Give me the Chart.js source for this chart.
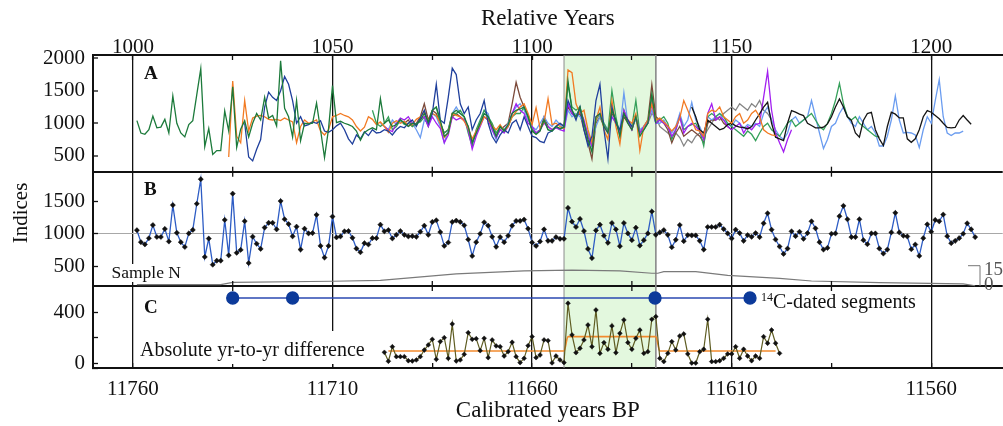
<!DOCTYPE html>
<html lang="en">
<head>
  <meta charset="UTF-8" />
  <title>Ring-width indices</title>
  <script src="https://cdn.jsdelivr.net/npm/chart.js"></script>
  <style>
    html, body { margin: 0; padding: 0; background: #fff; overflow: hidden; }
    /* a little wider than the window: the point overflow padding then falls outside the view */
    #wrap { width: 1010px; height: 426px; position: relative; }
  </style>
</head>
<body>
<div id="wrap"><canvas id="chart"></canvas></div>
<script>
const serif = "'Liberation Serif', 'Times New Roman', serif";

// relative years on x; calibrated BP labels shown underneath
const xMin = 990, xMax = 1217.9;
const majorYears = [1000, 1050, 1100, 1150, 1200];
const minorYears = [1025, 1075, 1125, 1175];
const relYearLabels = ['1000', '1050', '1100', '1150', '1200'];
const calYearLabels = ['11760', '11710', '11660', '11610', '11560'];

// panel value ranges and ticks
const aRange = [254, 2051];
const bRange = [190, 1962];
const cRange = [-37, 606];
const nRange = [-60.6, 170.7];
const aTicks = [500, 1000, 1500, 2000];
const bTicks = [500, 1000, 1500];
const cTicks = [0, 200, 400];
const cTickLabels = ['0', '', '400'];
const nTicks = [0, 15];

// highlighted interval (relative years)
const bandStart = 1108, bandEnd = 1131;

// Panel A: individual index series (start year + yearly values)
const darkGreenStart = 1001;
const darkGreen = [
  1040, 850, 830, 900, 1110, 930, 940, 1060, 850, 1420,
  1000, 850, 790, 980, 1040, 1440, 1840, 640, 920, 520,
  580, 580, 1190, 880, 1560, 630, 910, 1040, 790, 1000,
  1150, 1050, 1400, 1080, 1120, 960, 1960, 1230, 1100, 790,
  1350, 730, 1000, 990, 1000, 1310, 900, 470, 910, 1580,
  1010, 1030, 1000, 980, 950, 880, 740, 860, 900, 930,
  900, 1380, 1000, 1050, 950, 980, 1060, 1000, 950, 1000,
  980, 1050, 1150, 1020, 1200, 1250, 1050, 800, 850, 1150,
  1200, 1150, 1100, 950, 700, 850, 1000, 1150, 1100, 950,
  800, 950, 880, 980, 1150, 1200, 1220, 1250, 1100, 880,
  830, 880, 1050, 900, 880, 950, 920, 940, 1650, 1200,
  1100, 1250, 1000, 750, 560, 1100, 1150, 950, 850, 1200,
  1050, 800, 1150, 1000, 900, 1100, 800, 900, 1000, 1450, 1000
];
const orangeStart = 1024;
const orange = [
  480, 1650, 800, 700, 1350, 880, 1080,
  1110, 1120, 1100, 1060, 1050, 1060, 1040, 1080, 1050, 1020,
  700, 950, 1050, 1000, 1020, 1050, 880, 820, 900, 1100,
  1120, 1150, 1120, 1100, 1050, 950, 880, 940, 1100, 1060,
  980, 1020, 950, 860, 1000, 1040, 1000, 1030, 960, 980,
  1060, 1100, 1180, 1040, 1150, 1120, 1000, 780, 850, 1150,
  1120, 1100, 1030, 920, 760, 880, 970, 1100, 1060, 960,
  900, 980, 880, 950, 1100, 1180, 1250, 1300, 1150, 980,
  1240, 920, 1010, 1380, 980, 1000, 950, 920, 1820, 1780,
  1300, 1150, 1200, 900, 700, 1050, 1250, 900, 750, 1350,
  950, 680, 1150, 1050, 1000, 1150, 580, 950, 1050, 1300,
  1050, 1080, 1020, 960, 880, 950, 1080, 1350, 1200, 1050,
  900, 880, 800, 1150, 1200, 1180, 1250, 1100, 1050, 1000,
  1100, 1150, 1000, 1050, 1150, 1200, 1100, 900, 850, 820, 810
];
const darkBlueStart = 1028;
const darkBlue = [
  1000, 480, 420,
  600, 750, 1250, 1480, 1400, 1350, 1500, 1720, 1600, 1350,
  1000, 1100, 960, 980, 1020, 1000, 1040, 880, 860, 900,
  960, 1000, 900, 760, 680, 820, 760, 870, 810, 900,
  850, 860, 900, 880, 820, 900, 950, 930, 1000, 1050,
  950, 1080, 1200, 1000, 1150, 1600, 1050, 1000, 1400, 1850,
  1750, 1300, 1150, 1250, 900, 1050, 1150, 1350, 1000, 800,
  700, 820, 900, 850, 1000, 1050, 900, 1100, 950, 800,
  780, 720, 700, 850, 880, 950, 1000, 950, 1350, 1200,
  1050, 1250, 900, 650, 800, 1350, 1600, 900, 450, 1250,
  1000, 900, 1150, 1050, 950
];
const purpleStart = 1063;
const purple = [
  950, 900, 870, 1000, 1080, 1050, 1100, 1000,
  980, 1060, 1100, 950, 1100, 1000, 920, 700, 820, 1100,
  1050, 1080, 1050, 900, 600, 800, 950, 1100, 1050, 900,
  780, 900, 850, 950, 1150, 1300, 1200, 1150, 1000, 950,
  850, 900, 1000, 950, 900, 930, 900, 880, 1300, 1150,
  1100, 1200, 1050, 800, 650, 1100, 1150, 950, 850, 1100,
  1000, 850, 1200, 1050, 900, 1100, 850, 950, 1000, 1300,
  1000, 1050, 1000, 950, 800, 900, 1100, 850, 950, 1000,
  950, 880, 750, 1150, 1300, 1050, 1100, 1050, 950, 900,
  950, 1000, 850, 950, 900, 980, 1000, 1400, 1800, 1200,
  850, 700, 560, 750, 900
];
const lightBlueStart = 1062;
const lightBlue = [
  1000, 950, 900, 1050, 980, 1020, 1000, 950, 1000,
  900, 780, 1050, 1000, 1150, 1100, 950, 700, 900, 1150,
  1250, 1150, 1100, 900, 750, 850, 1000, 1200, 1150, 900,
  750, 950, 900, 1000, 1150, 1250, 1300, 1200, 1050, 950,
  900, 1000, 1100, 1000, 950, 1050, 980, 900, 1200, 1100,
  1150, 1100, 1000, 850, 700, 950, 1100, 1000, 900, 1100,
  1000, 900, 1470, 1000, 950, 1050, 900, 950, 1050, 1200,
  1000, 1000, 1050, 950, 850, 950, 1150, 950, 1050, 1320,
  1050, 950, 800, 1100, 1050, 1100, 1150, 1050, 980, 950,
  1050, 1000, 920, 980, 950, 1000, 950, 1150, 1250, 1050,
  900, 800, 750, 850, 1050, 1100, 1000, 1050, 1100, 1350,
  1100, 850, 610, 750, 950, 1000, 1150, 1250, 1100, 1000,
  950, 1100, 1000, 900, 950, 850, 650, 650, 800, 1050,
  1420, 1050, 850, 860, 850, 820, 625, 900, 1100, 1000,
  1350, 1670, 1100, 850, 810, 850, 850, 880
];
const blackStart = 1140;
const black = [
  1250, 1100, 900, 850, 1050, 1000, 950, 900, 920, 980,
  1000, 960, 940, 938, 913, 950, 1050, 1145, 1250, 1323, 1000,
  785, 760, 733, 1000, 1195, 1170, 1140, 1118, 1000, 965,
  929, 929, 940, 990, 1100, 1250, 1375, 1250, 1100, 1042,
  850, 785, 1042, 1150, 1170, 900, 760, 657, 950, 1170,
  1140, 1083, 1083, 760, 707, 760, 900, 1100, 1195, 1170,
  1118, 1068, 1000, 935, 929, 935, 1050, 1118, 1050, 985
];
const midGreenStart = 1060;
const midGreen = [
  1200, 1000, 950, 1000, 1100, 900, 950, 1050, 980, 1000, 950,
  1000, 1020, 1100, 950, 1200, 1250, 1000, 850, 900, 1150,
  1150, 1200, 1100, 850, 650, 900, 1050, 1200, 1100, 1000,
  850, 950, 900, 950, 1100, 1150, 1150, 1250, 1100, 900,
  850, 900, 1050, 900, 880, 950, 900, 950, 1600, 1250,
  1200, 1250, 1000, 800, 650, 1050, 1150, 1000, 880, 1500,
  1100, 800, 1200, 1000, 950, 1350, 850, 900, 1000, 1400,
  1000, 1050, 1100, 1000, 750, 900, 1100, 900, 950, 980,
  1000, 880, 650, 1100, 1150, 1100, 1150, 1100, 1000, 950,
  900, 850, 800, 880, 830, 733, 850, 950, 1000, 900,
  850, 800, 900, 1000, 1050, 950, 1000, 1050, 1100, 1150,
  1050, 950, 900, 1000, 1150, 1350, 1616, 1300, 1100, 1050,
  1100, 1000, 950, 900, 850, 800, 785
];
const brownStart = 1068;
const brown = [
  1000, 1050, 950,
  1000, 1100, 1300, 1050, 1200, 1150, 1000, 850, 900, 1100,
  1150, 1100, 1050, 950, 700, 850, 1000, 1100, 1050, 950,
  800, 900, 950, 1000, 1300, 1631, 1400, 1250, 1100, 900,
  850, 900, 1100, 950, 900, 950, 1000, 950, 1250, 1150,
  1100, 1150, 900, 700, 450, 1000, 1100, 950, 900, 1150,
  1050, 850, 1100, 1000, 900, 1100, 850, 950, 1050, 1597,
  1100, 1050, 1000, 900, 700, 850, 950, 800, 850, 900,
  850, 800, 700, 1000, 1050, 1050, 1100, 1000, 950, 900
];
const grayStart = 1128;
const gray = [
  950, 1000, 1150,
  1100, 950, 900, 850, 800, 850, 780, 650, 750, 700,
  800, 850, 800, 900, 1000, 1100, 1050, 1150, 1200, 1250,
  1200, 1300, 1250, 1200, 1300, 1250, 1350, 1200, 1150, 1050
];

// Panel B: mean chronology, 1001-1211
const chronStart = 1001;
const chronB = [
  1055, 870, 835, 930, 1135, 950, 950, 1075, 880, 1444,
  1015, 870, 795, 1005, 1060, 1465, 1846, 640, 925, 520,
  582, 582, 1215, 665, 1622, 705, 750, 1195, 545, 955,
  845, 765, 1095, 1170, 1170, 1068, 1507, 1225, 1150, 960,
  1110, 755, 1078, 1005, 1010, 1293, 812, 630, 812, 1267,
  943, 958, 1037, 1042, 937, 770, 713, 854, 833, 932,
  932, 1141, 1037, 1057, 927, 984, 1042, 984, 958, 963,
  953, 1031, 1125, 984, 1183, 1209, 1026, 812, 864, 1183,
  1204, 1183, 1130, 911, 655, 870, 1000, 1178, 1125, 953,
  797, 948, 870, 969, 1125, 1199, 1199, 1220, 1078, 865,
  812, 880, 1068, 890, 890, 948, 922, 922, 1400, 1188,
  1105, 1230, 1042, 765, 623, 1052, 1141, 969, 860, 1167,
  1068, 807, 1167, 1005, 901, 1094, 817, 901, 1005, 1345,
  984, 1021, 1057, 984, 791, 906, 1136, 885, 979, 974,
  974, 890, 755, 1105, 1105, 1105, 1141, 1073, 1005, 927,
  1063, 1010, 890, 979, 953, 1010, 948, 1162, 1318, 1063,
  911, 802, 687, 770, 1037, 963, 1031, 922, 1010, 1193,
  1084, 870, 755, 781, 1000, 1005, 1272, 1433, 1225, 948,
  948, 1225, 901, 838, 1005, 1005, 771, 693, 755, 1021,
  1324, 1021, 969, 958, 760, 833, 657, 932, 1146, 1031,
  1214, 1193, 1298, 963, 854, 890, 932, 1000, 1162, 1068,
  948
];

// sample depth (read at breakpoints)
const sampleYears = [1001, 1022, 1025, 1050, 1062, 1081, 1098, 1110, 1122, 1130, 1131.5, 1133, 1141, 1149, 1162, 1170, 1187, 1208, 1211];
const sampleN = [1, 1, 2.7, 3.5, 4.2, 9, 11.2, 11.8, 11.1, 9.4, 9.4, 10.6, 10.6, 7.9, 5.7, 3.7, 2.5, 1.5, 0.2];

// Panel C: absolute year-to-year difference, 1063-1162
const diffStart = 1063;
const diffC = [
  86, 16, 130, 52, 52, 52, 20, 18, 26, 52,
  104, 144, 188, 31, 170, 201, 39, 308, 18, 26,
  70, 240, 188, 193, 99, 196, 44, 183, 136, 130,
  57, 91, 165, 52, 5, 39, 138, 209, 44, 65,
  183, 177, 3, 57, 26, 5, 471, 222, 83, 118,
  183, 300, 130, 418, 78, 162, 110, 293, 83, 235,
  340, 162, 110, 196, 261, 78, 91, 345, 366, 39,
  13, 78, 170, 104, 214, 230, 73, 2, 2, 91,
  110, 345, 13, 13, 20, 39, 73, 73, 130, 39,
  110, 57, 20, 57, 39, 209, 157, 261, 157, 78
];
const meanYears = [1064, 1108, 1109, 1131, 1132, 1161];
const meanDiff = [96, 96, 209, 209, 96, 96];

// 14C-dated segment ends
const c14Years = [1025, 1040, 1130.8, 1154.6];
const c14Level = 512;

function yearly(start, values) {
  return values.map((v, i) => ({ x: start + i, y: v }));
}
function pairs(xs, ys) {
  return xs.map((x, i) => ({ x: x, y: ys[i] }));
}

const aSeries = [
  { data: darkGreen, start: darkGreenStart, color: '#1c7a3b' },
  { data: darkBlue, start: darkBlueStart, color: '#1f3f9c' },
  { data: orange, start: orangeStart, color: '#f27a22' },
  { data: black, start: blackStart, color: '#151515' },
  { data: purple, start: purpleStart, color: '#a21ff0' },
  { data: midGreen, start: midGreenStart, color: '#35a05a' },
  { data: lightBlue, start: lightBlueStart, color: '#6a9cf0' },
  { data: brown, start: brownStart, color: '#7c4a3a' },
  { data: gray, start: grayStart, color: '#858585' }
];

const datasets = [];
aSeries.forEach(s => {
  datasets.push({
    data: yearly(s.start, s.data), yAxisID: 'yA', xAxisID: 'x',
    borderColor: s.color, borderWidth: 1.3, pointRadius: 0, fill: false, order: 2
  });
});
datasets.push({
  data: yearly(chronStart, chronB), yAxisID: 'yB', xAxisID: 'x',
  borderColor: '#2d5cc4', borderWidth: 1.3, fill: false, order: 1,
  pointStyle: 'rectRot', pointRadius: 2.6, pointBackgroundColor: '#111', pointBorderColor: '#111', pointBorderWidth: 0.5
});
datasets.push({
  data: pairs(sampleYears, sampleN), yAxisID: 'yN', xAxisID: 'x',
  borderColor: '#7a7a7a', borderWidth: 1.2, pointRadius: 0, fill: false, order: 3
});
datasets.push({
  data: pairs(meanYears, meanDiff), yAxisID: 'yC', xAxisID: 'x',
  borderColor: '#f28a2e', borderWidth: 1.6, pointRadius: 0, fill: false, order: 1,
  cubicInterpolationMode: 'monotone'
});
datasets.push({
  data: yearly(diffStart, diffC), yAxisID: 'yC', xAxisID: 'x',
  borderColor: '#5e5c22', borderWidth: 1.2, fill: false, order: 0,
  pointStyle: 'rectRot', pointRadius: 2.4, pointBackgroundColor: '#111', pointBorderColor: '#111', pointBorderWidth: 0.5
});
datasets.push({
  data: c14Years.map(x => ({ x: x, y: c14Level })), yAxisID: 'yC', xAxisID: 'x',
  borderColor: '#2a48b0', borderWidth: 1.3, fill: false, order: 0,
  pointRadius: 6, pointBackgroundColor: '#0c3a9a', pointBorderColor: '#0c3a9a'
});
// shaded interval across all panels
datasets.push({
  data: [
    { x: bandStart, y: nRange[0] }, { x: bandStart, y: nRange[1] },
    { x: bandEnd, y: nRange[1] }, { x: bandEnd, y: nRange[0] }
  ],
  yAxisID: 'yN', xAxisID: 'x',
  borderColor: '#8c8c8c', borderWidth: 1, pointRadius: 0,
  backgroundColor: '#e3f8de', fill: 'start', order: 10
});

const allXTicks = majorYears.concat(minorYears).sort((a, b) => a - b);
function setTicks(values) {
  return scale => { scale.ticks = values.map(v => ({ value: v })); };
}
const tickFont = { family: serif, size: 21, lineHeight: 1 };
const titleFont = { family: serif, size: 23 };

function yScale(range, ticks, labelFor, weight, gridColor, gridWidth) {
  return {
    type: 'linear', position: 'left', stack: 'panels', stackWeight: weight,
    min: range[0], max: range[1],
    afterBuildTicks: setTicks([range[0]].concat(ticks)),
    afterFit: s => { s.width = 93; },
    ticks: { font: tickFont, color: '#111', padding: 13, callback: labelFor, autoSkip: false },
    grid: {
      drawOnChartArea: true, drawTicks: true, tickLength: -5,
      color: gridColor, lineWidth: gridWidth,
      tickColor: '#111', tickWidth: 1.3
    },
    border: { display: true, color: '#111', width: 2 }
  };
}

const scales = {
  x: {
    type: 'linear', position: 'bottom', min: xMin, max: xMax,
    afterBuildTicks: setTicks(allXTicks),
    afterFit: s => { s.height = 58; },
    ticks: {
      font: tickFont, color: '#111', padding: 16, autoSkip: false, maxRotation: 0,
      callback: v => { const i = majorYears.indexOf(v); return i < 0 ? '' : calYearLabels[i]; }
    },
    grid: {
      drawOnChartArea: true, drawTicks: true, tickLength: -5,
      color: c => majorYears.includes(c.tick.value) ? '#111' : 'rgba(0,0,0,0)',
      lineWidth: 1.3, tickColor: '#111', tickWidth: 1.3
    },
    border: { display: true, color: '#111', width: 2 },
    title: { display: true, text: 'Calibrated years BP', font: titleFont, color: '#111', padding: { top: 0, bottom: 1 } }
  },
  xTop: {
    type: 'linear', position: 'top', min: xMin, max: xMax,
    afterBuildTicks: setTicks(allXTicks),
    afterFit: s => { s.height = 55; },
    ticks: {
      font: tickFont, color: '#111', padding: 2.5, autoSkip: false, maxRotation: 0,
      callback: v => { const i = majorYears.indexOf(v); return i < 0 ? '' : relYearLabels[i]; }
    },
    grid: { drawOnChartArea: false, drawTicks: true, tickLength: -5, tickColor: '#111', tickWidth: 1.3 },
    border: { display: true, color: '#111', width: 2 },
    title: { display: true, text: 'Relative Years', font: titleFont, color: '#111', padding: { top: 5, bottom: 0 } }
  },
  yC: yScale(cRange, cTicks,
    v => { const i = cTicks.indexOf(v); return i < 0 ? '' : cTickLabels[i]; },
    82, 'rgba(0,0,0,0)', 1),
  yB: yScale(bRange, bTicks,
    v => bTicks.includes(v) ? String(v) : '',
    114.3,
    c => c.tick.value === bRange[0] ? '#111' : (c.tick.value === 1000 ? '#a8a8a8' : 'rgba(0,0,0,0)'),
    c => c.tick.value === bRange[0] ? 2 : 1),
  yA: yScale(aRange, aTicks,
    v => aTicks.includes(v) ? String(v) : '',
    116.7,
    c => c.tick.value === aRange[0] ? '#111' : 'rgba(0,0,0,0)',
    2),
  yN: { type: 'linear', position: 'right', display: false, min: nRange[0], max: nRange[1] }
};

// panel letters, in-plot labels, sample-depth bracket, y title
const decorations = {
  id: 'decorations',
  afterDraw(chart) {
    const ctx = chart.ctx;
    const { x, yA, yB, yC, yN } = chart.scales;
    ctx.save();

    // minor ticks at panel separators
    ctx.strokeStyle = '#111';
    ctx.lineWidth = 1.3;
    [yA.bottom, yB.bottom].forEach(sep => {
      minorYears.forEach(yr => {
        const px = x.getPixelForValue(yr);
        ctx.beginPath();
        ctx.moveTo(px, sep - 5);
        ctx.lineTo(px, sep + 5);
        ctx.stroke();
      });
    });

    ctx.fillStyle = '#111';
    ctx.textAlign = 'left';
    ctx.textBaseline = 'middle';
    ctx.font = 'bold 19px ' + serif;
    ctx.fillText('A', 144, yA.top + 19);
    ctx.fillText('B', 144, yB.top + 18);
    ctx.fillText('C', 144, yC.top + 22);

    // Sample N
    ctx.font = '17.5px ' + serif;
    let w = ctx.measureText('Sample N').width;
    ctx.fillStyle = '#fff';
    ctx.fillRect(109, 264, w + 5, 18);
    ctx.fillStyle = '#111';
    ctx.fillText('Sample N', 111.5, 273);

    // Absolute yr-to-yr difference
    ctx.font = '20px ' + serif;
    w = ctx.measureText('Absolute yr-to-yr difference').width;
    ctx.fillStyle = '#fff';
    ctx.fillRect(137, 331, w + 6, 33);
    ctx.fillStyle = '#111';
    ctx.fillText('Absolute yr-to-yr difference', 140, 351);

    // 14C-dated segments
    ctx.font = '12px ' + serif;
    ctx.fillText('14', 761, 298);
    const sw = ctx.measureText('14').width;
    ctx.font = '20px ' + serif;
    ctx.fillText('C-dated segments', 761 + sw, 303);

    // sample depth bracket
    const y0 = yN.getPixelForValue(nTicks[0]);
    const y15 = yN.getPixelForValue(nTicks[1]);
    ctx.strokeStyle = '#777';
    ctx.lineWidth = 1;
    ctx.beginPath();
    ctx.moveTo(968, y15);
    ctx.lineTo(980, y15);
    ctx.lineTo(980, y0);
    ctx.stroke();
    ctx.fillStyle = '#555';
    ctx.font = '19px ' + serif;
    ctx.fillText(String(nTicks[1]), 984, y15 + 4);
    ctx.fillText(String(nTicks[0]), 984, y0 - 1);

    // y title
    ctx.fillStyle = '#111';
    ctx.font = '21px ' + serif;
    ctx.translate(21.5, 213);
    ctx.rotate(-Math.PI / 2);
    ctx.textAlign = 'center';
    ctx.fillText('Indices', 0, 0);
    ctx.restore();
  }
};

new Chart(document.getElementById('chart'), {
  type: 'line',
  data: { datasets },
  options: {
    responsive: true,
    maintainAspectRatio: false,
    animation: false,
    devicePixelRatio: 1,
    events: [],
    layout: { padding: 0 },
    scales,
    plugins: {
      legend: { display: false },
      tooltip: { enabled: false },
      filler: { drawTime: 'beforeDraw' }
    }
  },
  plugins: [decorations]
});
</script>
</body>
</html>
